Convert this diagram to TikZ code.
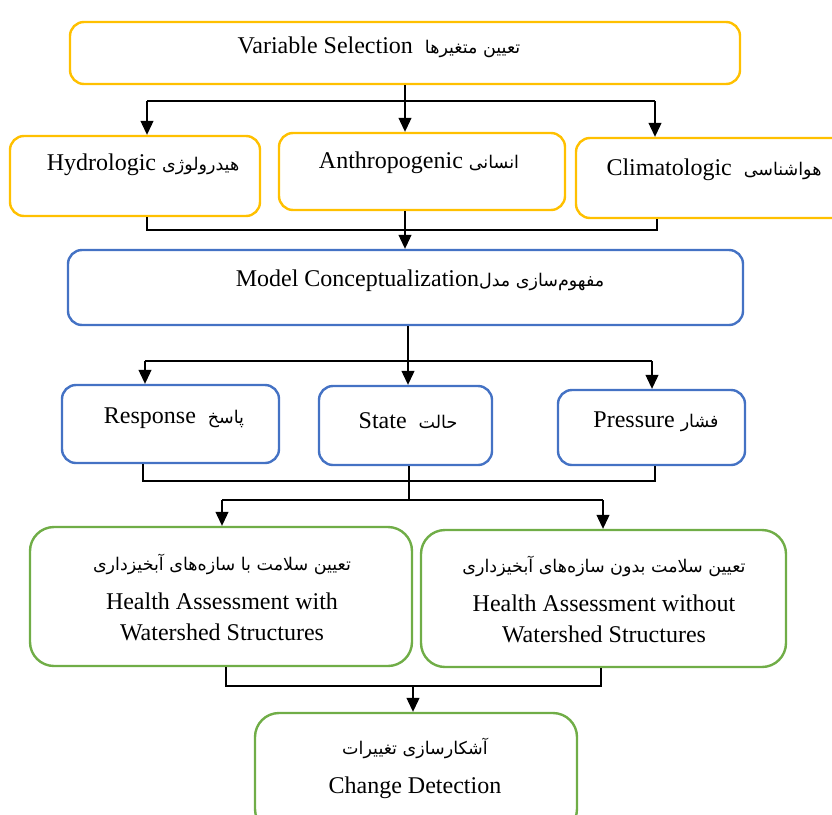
\documentclass[tikz,border=0pt]{standalone}
\usepackage{fontspec}
\setmainfont{Liberation Serif}
\newfontfamily\arabicfont[Script=Arabic]{DejaVu Sans}
\TeXXeTstate=1
\usetikzlibrary{arrows.meta}
\definecolor{cyel}{HTML}{FFC000}
\definecolor{cblu}{HTML}{4472C4}
\definecolor{cgrn}{HTML}{70AD47}
\newcommand{\fa}[1]{{\arabicfont\fontsize{17.5}{20}\selectfont\beginR #1\endR}}
\tikzset{
  boxbase/.style={draw, line width=2.4pt, inner sep=0pt},
  ybox/.style={boxbase, cyel, rounded corners=14pt},
  bbox/.style={boxbase, cblu, rounded corners=14pt},
  gbox/.style={boxbase, cgrn, rounded corners=24pt},
  txt/.style={inner sep=0pt, align=center, font=\fontsize{24}{31}\selectfont},
  conn/.style={line width=1.1pt, black},
  arr/.style={conn, -{Triangle[length=14pt,width=13pt]}},
}
\begin{document}
\begin{tikzpicture}[x=1pt,y=-1pt]
\useasboundingbox (0,0) rectangle (832,814);
% boxes
\node[ybox, minimum width=670pt, minimum height=62pt] (top) at (405,53) {};
\node[ybox, minimum width=250pt, minimum height=80pt] (hyd) at (135,176) {};
\node[ybox, minimum width=286pt, minimum height=77pt] (ant) at (422,171.5) {};
\node[ybox, minimum width=272pt, minimum height=80pt] (cli) at (712,178) {};
\node[bbox, minimum width=675pt, minimum height=75pt] (mod) at (405.5,287.5) {};
\node[bbox, minimum width=217pt, minimum height=78pt] (res) at (170.5,424) {};
\node[bbox, minimum width=173pt, minimum height=79pt] (sta) at (405.5,425.5) {};
\node[bbox, minimum width=187pt, minimum height=75pt] (pre) at (651.5,427.5) {};
\node[gbox, minimum width=382pt, minimum height=139pt] (gl) at (221,596.5) {};
\node[gbox, minimum width=365pt, minimum height=137pt] (gr) at (603.5,598.5) {};
\node[gbox, minimum width=322pt, minimum height=120pt] (cd) at (416,773) {};
% texts
\node[txt] (topt) at (379,47) {Variable Selection\ \ \fa{تعیین متغیرها}};
\node[txt] (hydt) at (143,165) {Hydrologic \fa{هیدرولوژی}};
\node[txt] (antt) at (419,163) {Anthropogenic \fa{انسانی}};
\node[txt] (clit) at (714,170) {Climatologic\ \ \fa{هواشناسی}};
\node[txt] (modt) at (420,281) {Model Conceptualization\fa{مفهوم‌سازی مدل}};
\node[txt] (rest) at (174,418) {Response\ \ \fa{پاسخ}};
\node[txt] (stat) at (408,421) {State\ \ \fa{حالت}};
\node[txt] (pret) at (656,422) {Pressure \fa{فشار}};
\node[txt] (glt) at (222,597) {\fa{تعیین سلامت با سازه‌های آبخیزداری}\\[8pt]Health Assessment with\\Watershed Structures};
\node[txt] (grt) at (604,599) {\fa{تعیین سلامت بدون سازه‌های آبخیزداری}\\[8pt]Health Assessment without\\Watershed Structures};
\node[txt] (cdt) at (415,768) {\fa{آشکارسازی تغییرات}\\[8pt]Change Detection};
% junction coordinates
\coordinate (j1) at (405,101);
\coordinate (a1) at (147,101);
\coordinate (a3) at (655,101);
\coordinate (m1) at (405,230);
\coordinate (m1l) at (147,230);
\coordinate (m1r) at (657,230);
\coordinate (j2) at (408,361);
\coordinate (b1) at (145,361);
\coordinate (b3) at (652,361);
\coordinate (m2) at (409,481);
\coordinate (m2l) at (143,481);
\coordinate (m2r) at (655,481);
\coordinate (j3) at (409,500);
\coordinate (c1) at (222,500);
\coordinate (c2) at (603,500);
\coordinate (m3) at (413,686);
\coordinate (m3l) at (226,686);
\coordinate (m3r) at (601,686);
% connectors: level 1
\draw[conn] (top.south) -- (j1);
\draw[conn] (a1) -- (a3);
\draw[arr] (a1) -- (a1 |- hyd.north);
\draw[arr] (j1) -- (j1 |- ant.north);
\draw[arr] (a3) -- (a3 |- cli.north);
\draw[conn] (m1l |- hyd.south) -- (m1l) -- (m1r) -- (m1r |- cli.south);
\draw[conn] (m1 |- ant.south) -- (m1);
\draw[arr] (m1) -- (m1 |- mod.north);
% level 2
\draw[conn] (j2 |- mod.south) -- (j2);
\draw[conn] (b1) -- (b3);
\draw[arr] (b1) -- (b1 |- res.north);
\draw[arr] (j2) -- (j2 |- sta.north);
\draw[arr] (b3) -- (b3 |- pre.north);
\draw[conn] (m2l |- res.south) -- (m2l) -- (m2r) -- (m2r |- pre.south);
\draw[conn] (m2 |- sta.south) -- (j3);
\draw[conn] (c1) -- (c2);
\draw[arr] (c1) -- (c1 |- gl.north);
\draw[arr] (c2) -- (c2 |- gr.north);
% level 3
\draw[conn] (m3l |- gl.south) -- (m3l) -- (m3r) -- (m3r |- gr.south);
\draw[arr] (m3) -- (m3 |- cd.north);
\end{tikzpicture}
\end{document}
